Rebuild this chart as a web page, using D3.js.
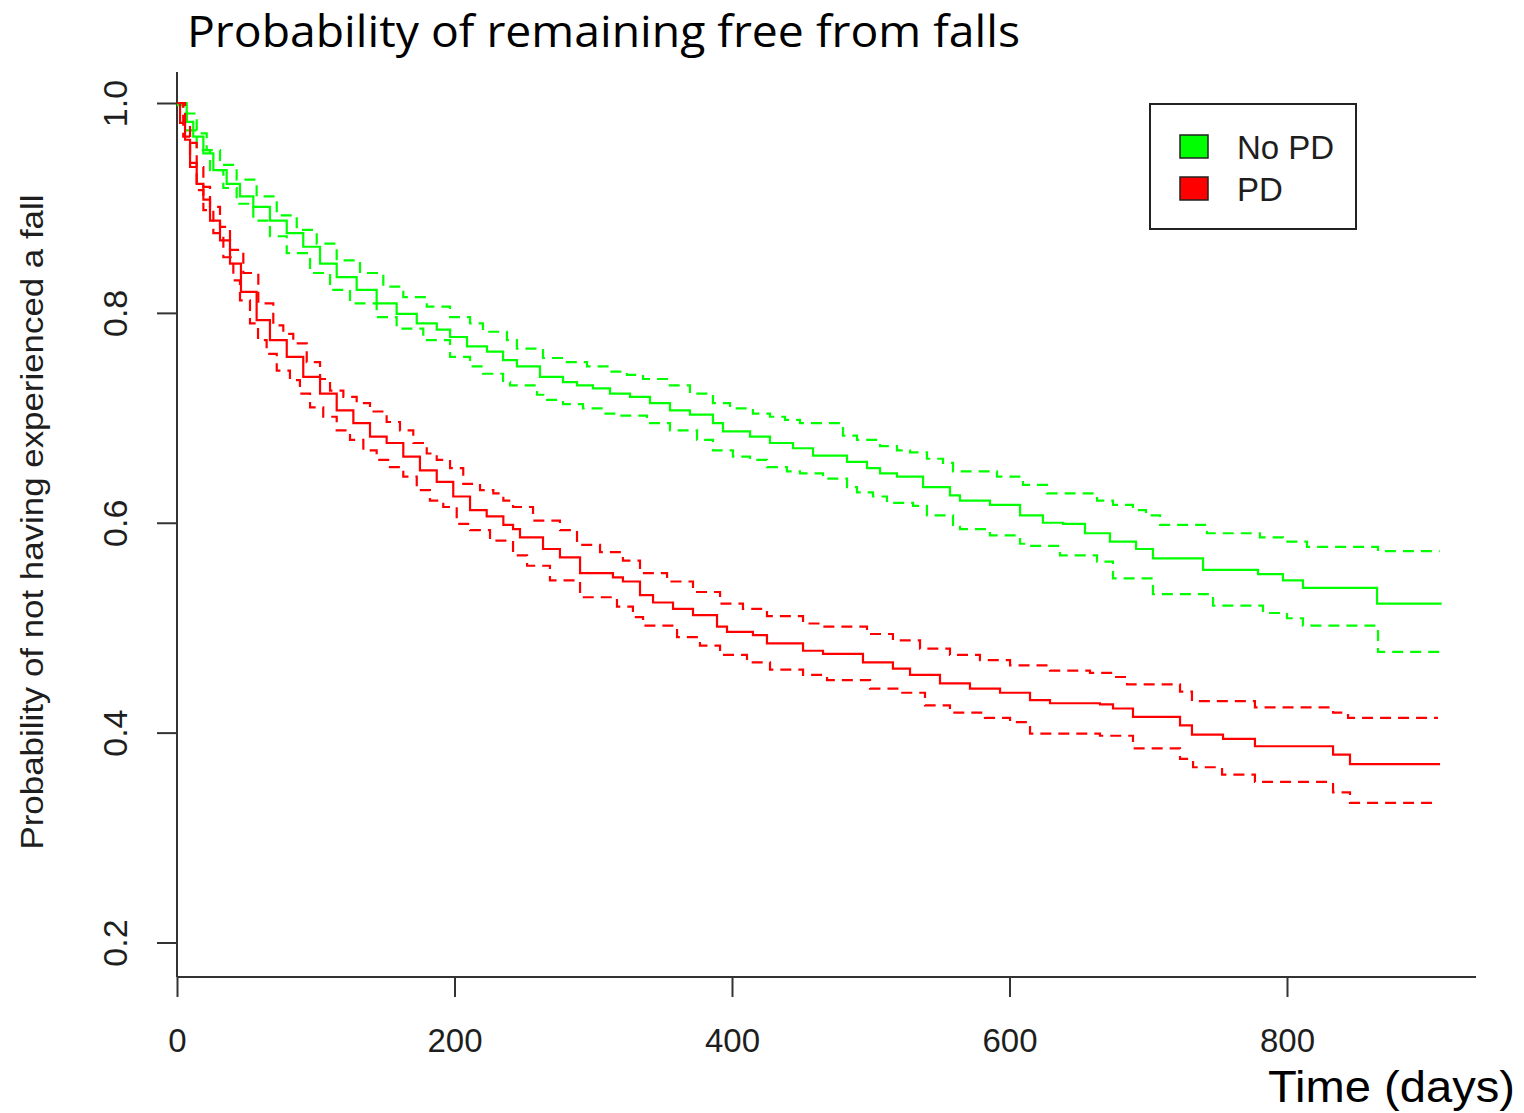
<!DOCTYPE html>
<html>
<head>
<meta charset="utf-8">
<script src="https://cdn.jsdelivr.net/npm/d3@7"></script>
<style>
  html, body { margin: 0; padding: 0; background: #ffffff; }
  svg { display: block; }
</style>
</head>
<body>
<svg id="chart" width="1524" height="1113"></svg>
<script>
// ---------------- DATA ----------------
const chartTitle = "Probability of remaining free from falls";
const xTitle = "Time (days)";
const yTitle = "Probability of not having experienced a fall";
const xTicks = [0, 200, 400, 600, 800];
const yTicks = [0.2, 0.4, 0.6, 0.8, 1.0];
const groups = ["No PD", "PD"];
const groupColors = ["#00ff00", "#ff0000"];

// Kaplan-Meier estimates: [time (days), survival probability]
const noPdSurv = [[0,1.0],[0.7,0.998],[7,0.982],[11.7,0.968],[19,0.952],[26.2,0.936],[35.8,0.923],[45.4,0.911],[55,0.901],[67,0.888],[79.1,0.876],[91,0.863],[103.1,0.847],[115.1,0.834],[129.5,0.822],[143.9,0.809],[158.3,0.799],[172.8,0.79],[187.2,0.784],[196.8,0.777],[209,0.768],[223.4,0.763],[235,0.755],[245,0.749],[261.6,0.739],[278.2,0.734],[288.3,0.731],[299.8,0.728],[312.1,0.723],[326.5,0.72],[340.9,0.714],[355.3,0.707],[369.7,0.703],[386.3,0.695],[393.5,0.687],[413,0.682],[427.4,0.676],[444,0.671],[458.4,0.664],[482.9,0.658],[497.3,0.652],[506.7,0.647],[518.9,0.644],[537.7,0.634],[557.1,0.626],[564.3,0.621],[585.9,0.617],[607.6,0.607],[624.1,0.6],[638.6,0.599],[654.4,0.59],[672.4,0.582],[691.2,0.575],[703.4,0.566],[739.5,0.555],[779.1,0.551],[797.1,0.545],[811.5,0.538],[864.9,0.523],[911.5,0.523]];
const noPdUpper = [[0,1.0],[4.5,0.99],[14.2,0.971],[21.4,0.955],[31,0.941],[43,0.927],[57.4,0.911],[71.9,0.893],[86.3,0.879],[100.7,0.866],[115.1,0.85],[131.9,0.838],[148.7,0.825],[163.1,0.815],[180,0.806],[196.8,0.796],[211.2,0.79],[220.5,0.782],[237.8,0.774],[245,0.766],[263.8,0.757],[278.2,0.753],[295.5,0.749],[312.1,0.744],[324.3,0.741],[335.9,0.737],[353.2,0.731],[369.7,0.723],[386.3,0.714],[398.6,0.709],[415.1,0.704],[427.4,0.701],[438.2,0.698],[449,0.695],[480,0.683],[490.1,0.679],[506.7,0.673],[518.9,0.669],[528.3,0.667],[540.5,0.661],[552.1,0.657],[559.3,0.649],[591,0.644],[609.7,0.636],[627,0.628],[663.1,0.621],[674.6,0.617],[689,0.612],[698.4,0.607],[708.5,0.598],[742.3,0.59],[780.5,0.586],[797.1,0.582],[814.4,0.577],[865.6,0.573],[910,0.573]];
const noPdLower = [[0,1.0],[7,0.974],[14.2,0.955],[23.8,0.936],[33.4,0.919],[43,0.904],[55,0.888],[67,0.873],[79.1,0.857],[95.9,0.838],[110.3,0.822],[124.7,0.809],[143.9,0.796],[158.3,0.785],[177.5,0.774],[196.8,0.758],[211.2,0.749],[220.5,0.742],[235,0.734],[240,0.731],[259.5,0.722],[266.7,0.717],[278.2,0.713],[292.6,0.709],[307,0.704],[319.3,0.702],[338.7,0.695],[355.3,0.688],[374.8,0.679],[386.3,0.669],[400.7,0.663],[413,0.66],[425.2,0.653],[439.6,0.649],[449,0.647],[465.6,0.642],[482.9,0.634],[490.1,0.629],[501.6,0.625],[511.7,0.619],[530.5,0.616],[540.5,0.607],[559.3,0.596],[564.3,0.594],[585.9,0.588],[607.6,0.58],[614.8,0.578],[636.4,0.569],[663.1,0.563],[674.6,0.547],[703.4,0.532],[746.7,0.521],[782.7,0.514],[800,0.509],[811.5,0.502],[865.6,0.477],[911.5,0.477]];

const pdSurv = [[0,1.0],[2.2,0.981],[5.8,0.965],[9.4,0.943],[14.2,0.923],[19,0.908],[23.8,0.888],[31,0.869],[38.2,0.847],[46.1,0.82],[57.4,0.793],[67,0.774],[79.1,0.758],[91,0.739],[103.1,0.723],[115.1,0.707],[127.1,0.695],[139.1,0.682],[151.1,0.676],[163.1,0.663],[175.1,0.65],[187.2,0.639],[199.1,0.625],[211.2,0.612],[223.2,0.606],[235.2,0.598],[242.2,0.594],[247.2,0.586],[263.8,0.575],[276,0.567],[290.5,0.552],[314.2,0.548],[321.4,0.544],[333.7,0.531],[343.1,0.524],[357.5,0.518],[371.9,0.512],[389.2,0.501],[396.4,0.496],[415.1,0.493],[425.2,0.485],[451.2,0.478],[465.6,0.475],[494.4,0.467],[516,0.461],[528.3,0.455],[549.9,0.447],[571.5,0.442],[593.2,0.438],[614.8,0.431],[629.2,0.428],[665.2,0.427],[674.6,0.423],[689,0.415],[722.9,0.407],[731.5,0.398],[753.9,0.394],[776.9,0.387],[833.2,0.379],[845.4,0.37],[910.3,0.37]];
const pdUpper = [[0,1.0],[5.8,0.981],[9.4,0.962],[14.2,0.939],[19,0.92],[23.8,0.901],[31,0.882],[38.2,0.86],[47.8,0.838],[58.6,0.809],[69.4,0.788],[76.6,0.78],[83.8,0.771],[93.5,0.753],[103.1,0.737],[110.3,0.726],[119.9,0.72],[129.5,0.714],[139.1,0.706],[151.1,0.696],[160.7,0.688],[170.3,0.676],[180,0.666],[187.2,0.66],[196.8,0.652],[206.3,0.637],[218.4,0.631],[228,0.628],[235.2,0.621],[242.2,0.615],[256.6,0.602],[276,0.593],[288.3,0.579],[304.9,0.572],[321.4,0.564],[333.7,0.552],[353.2,0.544],[371.9,0.534],[391.4,0.523],[407.9,0.518],[425.2,0.511],[451.2,0.504],[465.6,0.501],[497.3,0.494],[516,0.488],[535.5,0.48],[557.1,0.474],[578.7,0.469],[600.4,0.464],[629.2,0.459],[658,0.457],[674.6,0.453],[684.7,0.446],[722.9,0.439],[731.5,0.43],[776.9,0.424],[833.2,0.419],[844,0.414],[908.8,0.414]];
const pdLower = [[0,1.0],[4.5,0.968],[9.4,0.939],[14.2,0.917],[19,0.898],[26.2,0.876],[33.4,0.853],[40.6,0.831],[45.4,0.812],[52.6,0.79],[58.4,0.774],[64.6,0.761],[71.9,0.745],[81.4,0.736],[88.6,0.723],[95.9,0.71],[105.4,0.701],[115.1,0.688],[124.7,0.679],[134.3,0.669],[143.9,0.66],[153.5,0.653],[163.1,0.644],[172.8,0.631],[182.3,0.621],[191.9,0.615],[201.6,0.599],[211.2,0.593],[225.6,0.583],[242.2,0.569],[252.3,0.559],[268.8,0.545],[290.5,0.529],[317.1,0.52],[328.6,0.51],[335.9,0.502],[360.4,0.491],[376.9,0.483],[391.4,0.474],[410.8,0.467],[427.4,0.46],[451.2,0.455],[468.5,0.45],[499.5,0.442],[521.1,0.438],[539.1,0.426],[557.1,0.419],[582.3,0.414],[600.4,0.41],[614.8,0.399],[665.2,0.397],[689,0.385],[722.9,0.375],[732.3,0.367],[753.2,0.36],[776.9,0.353],[833.2,0.343],[845.4,0.333],[904.5,0.333]];

// ---------------- DRAW ----------------
const svg = d3.select("#chart");
const x = d3.scaleLinear().domain([0, 800]).range([177, 1287]);
const y = d3.scaleLinear().domain([0.2, 1.0]).range([942.5, 103]);

const axisColor = "#333333";
const labelColor = "#1e1e1e";

// axes lines (R style "L" box)
svg.append("line").attr("x1", 177).attr("x2", 177).attr("y1", 72).attr("y2", 977)
  .attr("stroke", axisColor).attr("stroke-width", 2);
svg.append("line").attr("x1", 177).attr("x2", 1476).attr("y1", 977).attr("y2", 977)
  .attr("stroke", axisColor).attr("stroke-width", 2);

// y axis
const yAxis = d3.axisLeft(y).tickValues(yTicks).tickSize(20).tickFormat(d3.format(".1f"));
const gy = svg.append("g").attr("transform", "translate(177,0)").call(yAxis);
gy.select(".domain").remove();
gy.selectAll(".tick line").attr("stroke", axisColor).attr("stroke-width", 2);
gy.selectAll(".tick text")
  .attr("x", null).attr("dy", null)
  .attr("transform", "translate(-50,0) rotate(-90)")
  .attr("text-anchor", "middle")
  .attr("fill", labelColor)
  .style("font-family", "'Liberation Sans', Arial, sans-serif")
  .style("font-size", "34px");

// x axis
const xAxis = d3.axisBottom(x).tickValues(xTicks).tickSize(20).tickFormat(d3.format("d"));
const gx = svg.append("g").attr("transform", "translate(0,977)").call(xAxis);
gx.select(".domain").remove();
gx.selectAll(".tick line").attr("stroke", axisColor).attr("stroke-width", 2);
gx.selectAll(".tick text")
  .attr("y", 75).attr("dy", null)
  .attr("fill", labelColor)
  .style("font-family", "'Liberation Sans', Arial, sans-serif")
  .style("font-size", "33px");

// curves
const line = d3.line().x(d => x(d[0])).y(d => y(d[1])).curve(d3.curveStepAfter);
const curves = [
  { data: noPdUpper, color: groupColors[0], dash: "11,7" },
  { data: noPdLower, color: groupColors[0], dash: "11,7" },
  { data: noPdSurv,  color: groupColors[0], dash: null },
  { data: pdUpper,   color: groupColors[1], dash: "11,7" },
  { data: pdLower,   color: groupColors[1], dash: "11,7" },
  { data: pdSurv,    color: groupColors[1], dash: null }
];
svg.append("g").selectAll("path").data(curves).join("path")
  .attr("d", c => line(c.data))
  .attr("fill", "none")
  .attr("stroke", c => c.color)
  .attr("stroke-width", 2.2)
  .attr("stroke-dasharray", c => c.dash);

// y axis title
svg.append("text")
  .attr("transform", "translate(43,522) rotate(-90)")
  .attr("text-anchor", "middle")
  .attr("fill", labelColor)
  .attr("textLength", 655).attr("lengthAdjust", "spacingAndGlyphs")
  .style("font-family", "'Liberation Sans', Arial, sans-serif")
  .style("font-size", "31px")
  .text(yTitle);

// chart title
svg.append("text")
  .attr("x", 187).attr("y", 47)
  .attr("fill", "#000")
  .attr("textLength", 833).attr("lengthAdjust", "spacingAndGlyphs")
  .style("font-family", "'Open Sans', 'Noto Sans', sans-serif")
  .style("font-size", "44px")
  .text(chartTitle);

// x title
svg.append("text")
  .attr("x", 1268).attr("y", 1102)
  .attr("fill", "#000")
  .attr("textLength", 247).attr("lengthAdjust", "spacingAndGlyphs")
  .style("font-family", "'Liberation Sans', Arial, sans-serif")
  .style("font-size", "45px")
  .text(xTitle);

// legend
const lg = svg.append("g");
lg.append("rect").attr("x", 1150).attr("y", 104).attr("width", 206).attr("height", 125)
  .attr("fill", "#fff").attr("stroke", "#222").attr("stroke-width", 2);
const items = lg.selectAll("g.item").data(groups).join("g").attr("class", "item")
  .attr("transform", (d, i) => `translate(0,${i * 42})`);
items.append("rect").attr("x", 1180).attr("y", 135).attr("width", 28).attr("height", 23)
  .attr("fill", (d, i) => groupColors[i]).attr("stroke", "#222").attr("stroke-width", 1.5);
items.append("text").attr("x", 1237).attr("y", 159)
  .attr("fill", labelColor)
  .style("font-family", "'Liberation Sans', Arial, sans-serif")
  .style("font-size", "33px")
  .text(d => d);
</script>
</body>
</html>
